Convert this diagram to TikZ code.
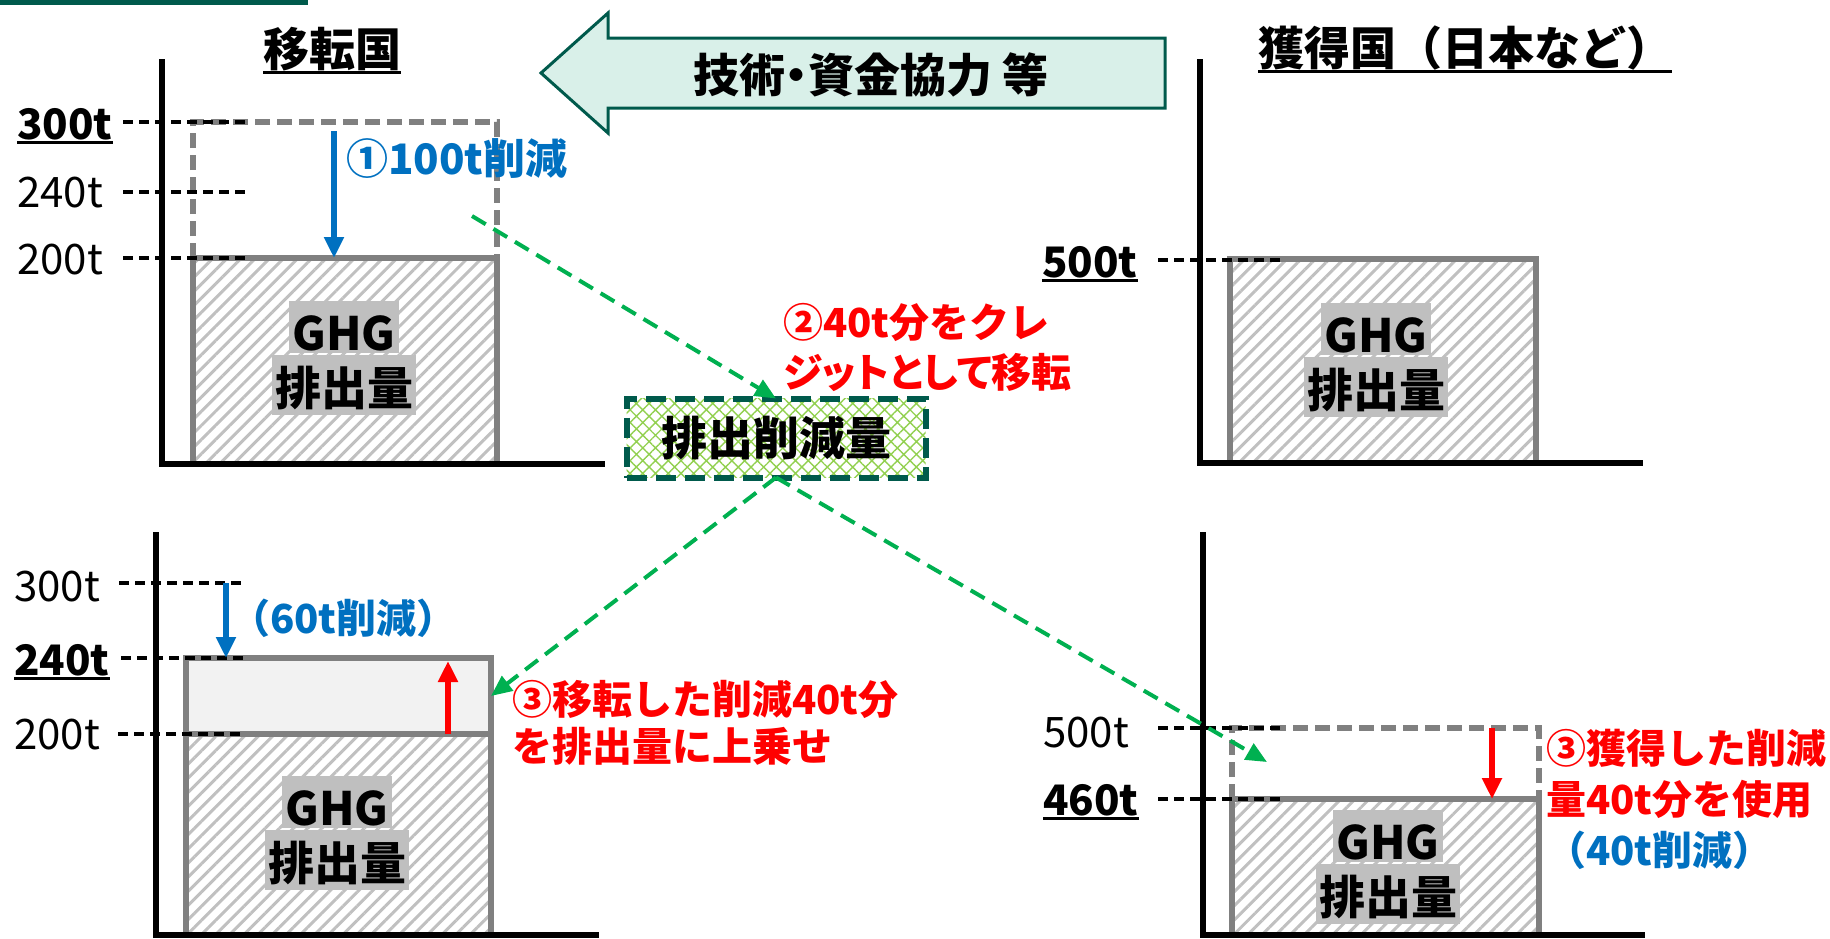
\documentclass[tikz,border=0pt]{standalone}
\usepackage{fontspec}
\setmainfont{Noto Sans CJK JP}
\usetikzlibrary{arrows.meta,patterns.meta,positioning}

\definecolor{tealdark}{RGB}{0,90,76}
\definecolor{mint}{RGB}{217,240,233}
\definecolor{oblue}{RGB}{0,112,192}
\definecolor{ored}{RGB}{255,0,0}
\definecolor{cgreen}{RGB}{0,176,80}
\definecolor{lgreen}{RGB}{146,208,80}
\definecolor{boxgray}{RGB}{128,128,128}
\definecolor{hatchgray}{RGB}{192,192,192}
\definecolor{labelgray}{RGB}{191,191,191}
\definecolor{addfill}{RGB}{242,242,242}

\newcommand{\ulnum}[2][5pt]{\setbox0=\hbox{#2}\rlap{\rule[-#1]{\wd0}{2.8pt}}\box0}

\begin{document}
\begin{tikzpicture}[x=1pt,y=-1pt,
    axis/.style={line width=5.5pt},
    lvl/.style={line width=3.6pt,dash pattern=on 10pt off 6pt},
    oldlvl/.style={draw=boxgray,line width=5.5pt,dash pattern=on 15pt off 7pt},
    ghg/.style={draw=boxgray,line width=5.5pt,outer sep=0pt,inner sep=0pt,anchor=north west,
      pattern={Lines[angle=45,distance=10pt,line width=3pt]},pattern color=hatchgray},
    addbox/.style={draw=boxgray,line width=5.5pt,fill=addfill,outer sep=0pt,inner sep=0pt,anchor=north west},
    tag/.style={fill=labelgray,inner xsep=3pt,inner ysep=0pt,text height=50pt,
      font=\fontsize{46}{50}\selectfont\bfseries},
    tick/.style={inner sep=0pt,anchor=base west,font=\fontsize{42}{48}\selectfont},
    tickb/.style={tick,font=\fontsize{42}{48}\selectfont\bfseries},
    title/.style={inner sep=0pt,font=\fontsize{46}{50}\selectfont\bfseries},
    note/.style={inner sep=0pt,align=left,anchor=west},
    down/.style={line width=5.5pt,-{Triangle[length=21pt,width=19pt]}},
    transfer/.style={cgreen,line width=4pt,dash pattern=on 16pt off 9pt,-{Triangle[length=21pt,width=18pt]}},
    credit/.style={draw=tealdark,line width=6pt,dash pattern=on 20pt off 9pt,outer sep=0pt,
      pattern={Hatch[angle=45,distance=9pt,line width=1.4pt]},pattern color=lgreen,
      minimum width=299pt,minimum height=79pt,font=\fontsize{46}{50}\selectfont\bfseries}]
  \useasboundingbox (0,0) rectangle (1830,938);
  \fill[tealdark] (0,0) rectangle (308,5);

  % titles and the support arrow
  \node[title,anchor=base] (giver) at (332,66) {\ulnum[8pt]{移転国}};
  \node[title,anchor=base west] (taker) at (1258,65) {\ulnum[8pt]{獲得国（日本など）}};
  \draw[tealdark,line width=3pt,fill=mint] (541,73) -- (608,13) -- (608,38) -- (1165,38)
    -- (1165,108) -- (608,108) -- (608,133) -- cycle;
  \node[title,anchor=base] (aid) at (871,92) {技術{\addfontfeature{RawFeature=+palt}・}資金協力 等};

  % transferring country, before
  \node[ghg,minimum width=304pt,minimum height=206pt] (emitA) at (193,258) {};
  \draw[oldlvl] (emitA.north west) -- (193,122) -- (497,122) -- (emitA.north east);
  \draw[axis] (162,59) -- (162,464) -- (605,464);
  \foreach \y in {122,192,258} \draw[lvl] (123,\y) -- (247,\y);
  \node[tickb] (a300) at (17,139) {\ulnum{300t}};
  \node[tick] (a240) at (17,207) {240t};
  \node[tick] (a200) at (17,274) {200t};
  \coordinate (topA) at (334,131);
  \draw[down,oblue] (topA) -- (topA |- emitA.north);
  \node[inner sep=0pt,anchor=base west,oblue,font=\fontsize{42}{48}\selectfont\bfseries] (cutA) at (346,174) {①100t削減};

  % acquiring country, before
  \node[ghg,minimum width=306pt,minimum height=204pt] (emitB) at (1230,259) {};
  \draw[axis] (1200,59) -- (1200,463) -- (1643,463);
  \draw[lvl] (1158,260) -- (1281,260);
  \node[tickb] (b500) at (1042,277) {\ulnum{500t}};

  % transferring country, after
  \node[addbox,minimum width=305pt,minimum height=76pt] (added) at (186,658) {};
  \node[ghg,minimum width=305pt,minimum height=201pt] (emitC) at (186,734) {};
  \draw[axis] (156,532) -- (156,935) -- (599,935);
  \draw[lvl] (119,583) -- (243,583);
  \draw[lvl] (121,658) -- (245,658);
  \draw[lvl] (118,734) -- (241,734);
  \node[tick] (c300) at (14,601) {300t};
  \node[tickb] (c240) at (14,675) {\ulnum{240t}};
  \node[tick] (c200) at (14,749) {200t};
  \draw[down,oblue] (226,583) -- (226,658);
  \node[inner sep=0pt,anchor=base west,oblue,font=\fontsize{40}{48}\selectfont\bfseries] (cutC) at (230,633) {（60t削減）};
  \draw[down,ored] (448,734) -- (448,661);

  % acquiring country, after
  \node[ghg,minimum width=307pt,minimum height=136pt] (emitD) at (1232,799) {};
  \draw[oldlvl] (emitD.north west) -- (1232,728) -- (1539,728) -- (emitD.north east);
  \draw[axis] (1203,532) -- (1203,935) -- (1645,935);
  \draw[lvl] (1158,728) -- (1280,728);
  \draw[lvl] (1158,799) -- (1280,799);
  \node[tick] (d500) at (1043,747) {500t};
  \node[tickb] (d460) at (1043,815) {\ulnum{460t}};
  \draw[down,ored] (1492,728) -- (1492,799);

  \foreach \gx/\gy/\gn in {344/353/A,1376/355/B,337/828/C,1388/862/D}{
    \node[tag,text depth=2pt,anchor=south] (ghg\gn) at (\gx,\gy) {GHG};
    \node[tag,text depth=10pt,below=2pt of ghg\gn] (em\gn) {排出量};
  }

  % credit
  \node[credit] (credit) at (776,438) {排出削減量};
  \node[note,ored,font=\fontsize{40}{50}\selectfont\bfseries] (creditnote) at (783,347)
    {②40t分をクレ\\{\addfontfeature{RawFeature=+palt}ジットとして移転}};
  \node[note,ored,font=\fontsize{40}{47}\selectfont\bfseries] (addnote) at (512,723) {③移転した削減40t分\\を排出量に上乗せ};
  \node[note,ored,font=\fontsize{40}{51}\selectfont\bfseries] (usenote) at (1546,799) {③獲得した削減\\量40t分を使用\\{\color{oblue}（40t削減）}};

  \coordinate (cutsrc) at (472,216);
  \coordinate (usedin) at (1267,762);
  \draw[transfer] (cutsrc) -- (credit.north);
  \draw[transfer] (credit.south) -- (added.east);
  \draw[transfer] (credit.south) -- (usedin);
\end{tikzpicture}
\end{document}
